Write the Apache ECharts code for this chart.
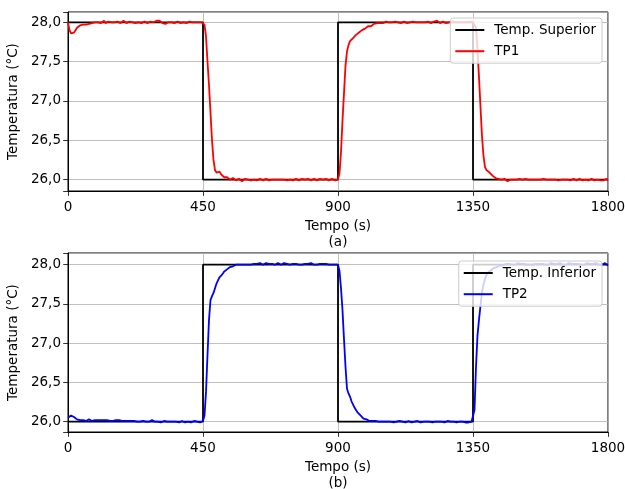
<!DOCTYPE html>
<html>
<head>
<meta charset="utf-8">
<script src="https://cdn.jsdelivr.net/npm/echarts@6/dist/echarts.min.js"></script>
<style>
html,body{margin:0;padding:0;background:#fff;}
#chart{width:625px;height:489px;}
</style>
</head>
<body>
<div id="chart"></div>
<script>
// Sample times (s), every 5 s from 0 to 1800
const time = Array.from({length: 361}, (_, i) => i * 5);

// Step setpoints
const stepTime = [0, 450, 900, 1350, 1800];
const tempSuperior = [28, 26, 28, 26, 26];
const tempInferior = [26, 28, 26, 28, 28];

// TP1 (top panel)
const tp1 = [
  28.00,27.90,27.86,27.85,27.87,27.90,27.93,27.95,27.96,27.95,27.97,27.98,27.97,27.99,27.98,28.00,27.99,28.01,28.00,27.99,
  28.00,28.01,27.99,28.00,28.02,27.99,28.00,28.01,27.99,28.00,28.01,28.00,27.99,28.01,28.00,27.99,28.00,28.02,28.00,27.99,
  28.00,28.01,27.99,28.00,28.01,27.99,28.00,28.00,28.01,27.99,28.00,28.01,28.00,27.99,28.00,28.01,27.99,28.00,28.01,28.02,
  28.01,28.02,28.00,27.99,28.00,27.98,27.99,28.00,28.01,28.00,28.01,27.99,28.00,28.01,28.00,27.99,28.01,28.00,28.00,27.99,
  28.00,28.01,27.99,28.00,28.01,28.00,27.99,28.00,28.01,28.00,28.00,27.97,27.82,27.50,27.20,26.85,26.50,26.25,26.12,26.09,
  26.11,26.10,26.07,26.05,26.03,26.02,26.03,26.01,26.00,26.01,26.02,26.00,25.99,26.00,26.01,25.99,25.98,26.00,26.01,25.99,
  26.00,26.01,25.99,26.00,26.00,26.01,25.99,26.00,26.01,26.00,25.99,26.00,26.01,26.00,25.99,26.01,26.00,25.99,26.00,26.01,
  26.00,25.99,26.00,26.01,26.00,26.00,25.99,26.01,26.00,26.00,25.99,26.00,26.01,26.00,25.99,26.00,26.01,25.99,26.00,26.00,
  26.01,26.00,25.99,26.00,26.01,26.00,25.99,26.00,26.01,26.00,26.00,25.99,26.01,26.00,25.99,26.00,26.01,26.00,25.99,26.00,
  26.00,26.08,26.35,26.75,27.10,27.45,27.63,27.71,27.76,27.78,27.80,27.82,27.84,27.86,27.87,27.89,27.90,27.91,27.92,27.93,
  27.95,27.96,27.95,27.97,27.98,27.97,27.99,27.98,27.99,28.00,27.99,28.00,28.01,27.99,28.00,28.01,28.00,27.99,28.01,28.00,
  28.00,28.01,27.99,28.00,28.01,28.00,27.99,28.01,28.00,28.00,28.01,27.99,28.00,28.01,28.00,27.99,28.00,28.01,28.00,27.99,
  28.01,28.00,27.99,28.00,28.01,28.00,28.02,28.00,27.99,28.00,28.01,28.00,27.99,28.01,28.00,28.00,28.01,27.99,28.00,28.01,
  28.00,27.99,28.00,28.01,28.00,27.99,28.00,28.00,28.01,28.00,28.00,28.00,27.93,27.65,27.30,26.92,26.55,26.30,26.16,26.12,
  26.11,26.09,26.07,26.05,26.04,26.02,26.03,26.01,26.02,26.00,25.99,26.01,26.00,25.98,25.99,26.00,26.01,26.00,25.99,26.00,
  26.00,26.01,25.99,26.00,26.00,26.01,25.99,26.00,26.01,26.00,25.99,26.00,26.01,26.00,25.99,26.00,26.00,26.01,25.99,26.00,
  26.01,26.00,25.99,26.00,26.01,26.00,26.00,25.99,26.01,26.00,25.99,26.00,26.01,26.00,26.00,25.99,26.00,26.01,26.00,25.99,
  26.00,26.01,26.00,25.99,26.00,26.00,26.01,25.99,26.00,26.01,26.00,25.99,26.00,26.00,26.01,25.99,26.00,25.99,26.00,26.01,
  25.99
];

// TP2 (bottom panel)
const tp2 = [
  26.05,26.06,26.08,26.09,26.06,26.04,26.03,26.03,26.02,26.03,26.02,26.02,26.01,26.02,26.03,26.02,26.01,26.02,26.02,26.01,
  26.02,26.01,26.02,26.03,26.02,26.01,26.02,26.02,26.01,26.02,26.01,26.02,26.02,26.01,26.02,26.03,26.01,26.02,26.01,26.00,
  26.01,26.00,26.01,26.00,26.01,26.01,26.00,26.01,26.00,26.01,26.01,26.00,26.00,26.01,26.00,26.00,26.02,26.01,26.00,26.01,
  26.00,26.01,25.99,26.00,26.01,25.99,26.00,25.99,26.00,26.01,26.00,25.99,26.00,26.00,25.99,26.00,26.01,26.00,25.99,26.00,
  26.00,26.01,25.99,26.00,26.01,26.00,26.00,26.01,25.99,26.00,26.01,26.08,26.38,26.85,27.30,27.55,27.60,27.64,27.70,27.76,
  27.80,27.84,27.86,27.88,27.91,27.93,27.94,27.95,27.97,27.98,27.98,27.99,28.00,27.99,28.00,28.01,28.00,28.02,28.00,28.01,
  28.00,28.01,28.00,28.02,28.01,28.00,28.01,28.00,28.02,28.01,28.00,28.01,28.02,28.00,28.01,28.00,28.01,28.02,28.00,28.01,
  28.02,28.01,28.00,28.01,28.02,28.00,28.01,28.01,28.00,28.02,28.01,28.00,28.01,28.02,28.00,28.01,28.00,28.02,28.01,28.00,
  28.01,28.00,28.02,28.01,28.00,28.01,28.00,28.02,28.01,28.00,28.01,28.00,28.01,28.02,28.00,28.01,28.00,28.01,28.00,28.01,
  28.00,27.92,27.70,27.42,27.05,26.70,26.42,26.36,26.32,26.26,26.22,26.18,26.15,26.12,26.10,26.08,26.06,26.04,26.04,26.03,
  26.02,26.01,26.02,26.01,26.00,26.01,26.02,26.00,26.01,26.00,26.01,26.00,25.99,26.00,26.01,26.00,26.00,25.99,26.01,26.00,
  26.00,26.01,25.99,26.00,26.00,25.99,26.00,26.01,26.00,25.99,26.00,26.00,25.99,26.01,26.00,25.99,26.00,26.00,25.99,26.00,
  25.99,26.00,26.00,25.99,26.01,26.00,25.99,26.00,25.99,26.00,26.00,25.99,26.00,26.01,25.99,26.00,25.99,26.00,26.00,25.99,
  26.00,26.00,25.99,26.00,26.01,25.99,26.00,25.99,26.00,26.00,26.01,26.15,26.70,27.10,27.30,27.48,27.65,27.75,27.82,27.87,
  27.90,27.92,27.93,27.95,27.96,27.97,27.97,27.98,27.99,28.00,27.99,28.00,28.01,28.00,28.01,28.02,28.00,28.01,28.00,28.01,
  28.02,28.00,28.01,28.00,28.01,28.02,28.00,28.01,28.00,28.01,28.00,28.02,28.01,28.00,28.01,28.00,28.01,28.02,28.00,28.01,
  28.00,28.01,28.02,28.00,28.01,28.00,28.01,28.00,28.02,28.01,28.00,28.01,28.00,28.01,28.02,28.00,28.01,28.00,28.01,28.00,
  28.01,28.02,28.00,28.01,28.00,28.01,28.02,28.00,28.01,28.00,28.01,28.00,28.02,28.01,28.00,28.01,28.00,28.01,28.02,28.00,
  27.99
];

const xTicks = [0, 450, 900, 1350, 1800];

const FONT = 'DejaVu Sans';
const FS = 13.5;
const pairs = (xs, ys) => xs.map((x, i) => [x, ys[i]]);

function yLabel(v) {
  if (Math.abs(v * 2 - Math.round(v * 2)) < 1e-6) return v.toFixed(1).replace('.', ',');
  return '';
}

function xAxisCfg(gridIndex, name) {
  return {
    type: 'value', gridIndex, min: xTicks[0], max: xTicks[xTicks.length - 1], interval: 450,
    name, nameLocation: 'middle', nameGap: 28,
    nameTextStyle: {fontFamily: FONT, fontSize: FS, color: '#000', lineHeight: 15.5},
    axisLine: {show: true, onZero: false, lineStyle: {color: '#000', width: 1}},
    axisTick: {show: true, inside: false, length: 4.8, lineStyle: {color: '#000', width: 0.8}},
    axisLabel: {fontFamily: FONT, fontSize: FS, color: '#000', margin: 9, formatter: v => String(v)},
    splitLine: {show: true, lineStyle: {color: '#b0b0b0', width: 0.8}}
  };
}
function yAxisCfg(gridIndex, min, max) {
  return {
    type: 'value', gridIndex, min, max,
    name: 'Temperatura (°C)', nameLocation: 'middle', nameGap: 45,
    nameTextStyle: {fontFamily: FONT, fontSize: FS, color: '#000'},
    axisLine: {show: true, lineStyle: {color: '#000', width: 1}},
    axisTick: {show: true, inside: false, length: 4.8, lineStyle: {color: '#000', width: 0.8}},
    axisLabel: {fontFamily: FONT, fontSize: FS, color: '#000', margin: 7, formatter: yLabel},
    splitLine: {show: true, lineStyle: {color: '#b0b0b0', width: 0.8}}
  };
}
function legendCfg(top, names) {
  return {
    orient: 'vertical', right: 23, top, data: names,
    icon: 'rect', itemWidth: 29, itemHeight: 2, itemGap: 7.2,
    padding: [5, 6, 5, 5],
    backgroundColor: 'rgba(255,255,255,0.8)', borderColor: '#cccccc', borderWidth: 1, borderRadius: 3,
    textStyle: {fontFamily: FONT, fontSize: FS, color: '#000', padding: [0, 0, 0, 5], lineHeight: 14}
  };
}
function lineSeries(name, xi, data, color, step) {
  const s = {
    name, type: 'line', xAxisIndex: xi, yAxisIndex: xi, data,
    symbol: 'none', showSymbol: false, smooth: false,
    lineStyle: {color, width: 1.8}, itemStyle: {color},
    emphasis: {disabled: true}, silent: true
  };
  if (step) s.step = 'end';
  return s;
}

const gridBase = {left: 68, width: 540, height: 179, show: true, borderColor: '#000', borderWidth: 1,
  backgroundColor: '#fff', containLabel: false, outerBoundsMode: 'none'};

const chart = echarts.init(document.getElementById('chart'), null, {renderer: 'canvas'});
chart.setOption({
  animation: false,
  backgroundColor: '#fff',
  grid: [
    Object.assign({}, gridBase, {top: 12}),
    Object.assign({}, gridBase, {top: 253})
  ],
  xAxis: [xAxisCfg(0, 'Tempo (s)\n(a)'), xAxisCfg(1, 'Tempo (s)\n(b)')],
  yAxis: [yAxisCfg(0, 25.855, 28.131), yAxisCfg(1, 25.869, 28.149)],
  legend: [legendCfg(18, ['Temp. Superior', 'TP1']), legendCfg(261, ['Temp. Inferior', 'TP2'])],
  series: [
    lineSeries('Temp. Superior', 0, pairs(stepTime, tempSuperior), '#000000', true),
    lineSeries('TP1', 0, pairs(time, tp1), '#ff0000', false),
    lineSeries('Temp. Inferior', 1, pairs(stepTime, tempInferior), '#000000', true),
    lineSeries('TP2', 1, pairs(time, tp2), '#0000ff', false)
  ]
});
</script>
</body>
</html>
